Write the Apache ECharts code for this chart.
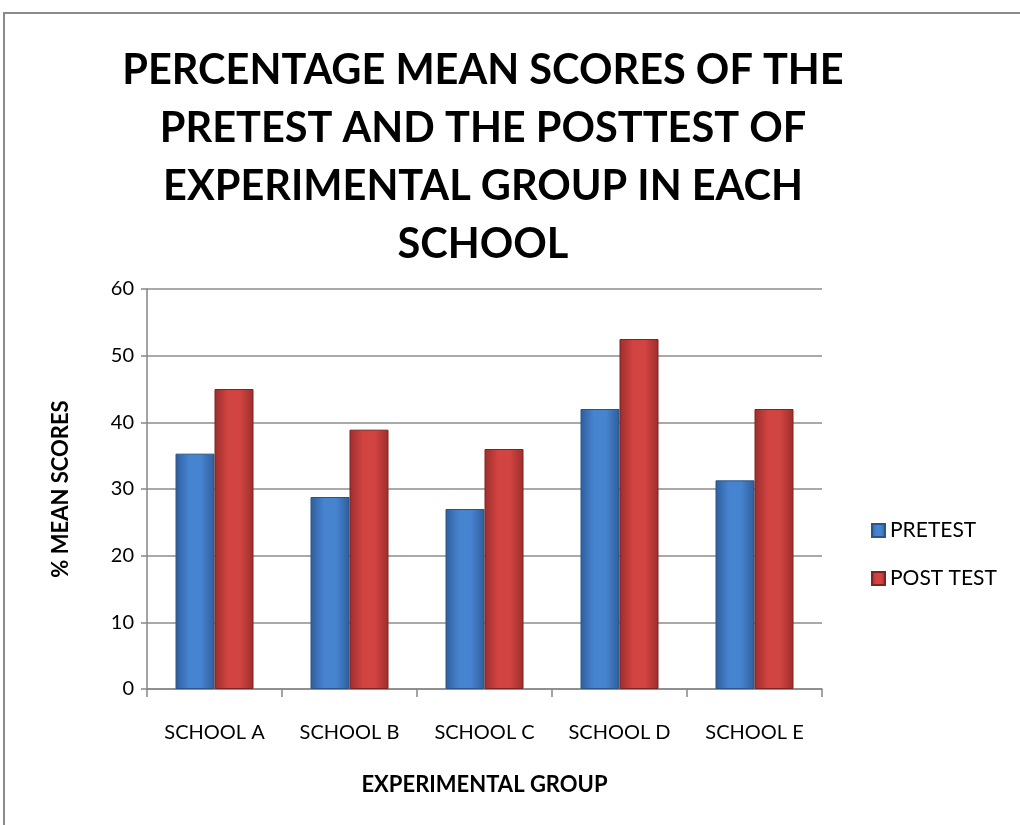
<!DOCTYPE html>
<html>
<head>
<meta charset="utf-8">
<script src="https://cdn.jsdelivr.net/npm/echarts@6/dist/echarts.min.js"></script>
<style>
  html, body { margin: 0; padding: 0; background: #fff; }
  #main { width: 1020px; height: 825px; }
</style>
</head>
<body>
<div id="main"></div>
<script>
var titleText = 'PERCENTAGE MEAN SCORES OF THE\nPRETEST AND THE POSTTEST OF\nEXPERIMENTAL GROUP IN EACH\nSCHOOL';
var schools = ['SCHOOL A', 'SCHOOL B', 'SCHOOL C', 'SCHOOL D', 'SCHOOL E'];
var pretest = [35.3, 28.8, 27.0, 42.0, 31.3];
var posttest = [45.0, 38.9, 36.0, 52.5, 42.0];
var yTicks = [0, 10, 20, 30, 40, 50, 60];

var font = 'Lato, "Open Sans", sans-serif';

function barColor(edge, mid) {
  return new echarts.graphic.LinearGradient(0, 0, 1, 0, [
    { offset: 0, color: edge },
    { offset: 0.35, color: mid },
    { offset: 0.65, color: mid },
    { offset: 1, color: edge }
  ]);
}

var myChart = echarts.init(document.getElementById('main'));

var option = {
  backgroundColor: '#fff',
  animation: false,
  title: {
    text: titleText,
    left: 478,
    top: 37,
    textAlign: 'center',
    textStyle: {
      fontFamily: font,
      fontSize: 41.5,
      fontWeight: 'bold',
      color: '#000',
      lineHeight: 58
    }
  },
  legend: {
    orient: 'vertical',
    left: 866,
    top: 515,
    itemGap: 27,
    itemWidth: 13,
    itemHeight: 13,
    icon: 'rect',
    textStyle: { fontFamily: font, fontSize: 21, color: '#000' },
    data: ['PRETEST', 'POST TEST']
  },
  grid: {
    left: 147,
    right: 198,
    top: 289,
    bottom: 136,
    containLabel: false
  },
  graphic: [{
    type: 'rect',
    shape: { x: 4, y: 13, width: 1030, height: 830 },
    style: { fill: 'none', stroke: '#8a8a8a', lineWidth: 2 },
    silent: true
  }],
  xAxis: {
    type: 'category',
    data: schools,
    name: 'EXPERIMENTAL GROUP',
    nameLocation: 'middle',
    nameGap: 85,
    nameTextStyle: { fontFamily: font, fontSize: 22, fontWeight: 'bold', color: '#000' },
    axisLine: { lineStyle: { color: '#868686', width: 1.5 } },
    axisTick: { show: true, length: 8, lineStyle: { color: '#868686', width: 1.5 } },
    axisLabel: { fontFamily: font, fontSize: 20, color: '#000', margin: 34 }
  },
  yAxis: {
    type: 'value',
    min: yTicks[0],
    max: yTicks[yTicks.length - 1],
    interval: 10,
    name: '% MEAN SCORES',
    nameLocation: 'middle',
    nameGap: 75,
    nameRotate: 90,
    nameTextStyle: { fontFamily: font, fontSize: 22, fontWeight: 'bold', color: '#000' },
    axisLine: { show: true, lineStyle: { color: '#868686', width: 1.5 } },
    axisTick: { show: true, length: 6, lineStyle: { color: '#868686', width: 1.5 } },
    axisLabel: { fontFamily: font, fontSize: 20, color: '#000', margin: 13 },
    splitLine: { lineStyle: { color: '#8c8c8c', width: 1.5 } }
  },
  series: [
    {
      name: 'PRETEST',
      type: 'bar',
      data: pretest,
      barWidth: 39,
      barGap: '0%',
      itemStyle: {
        color: barColor('#2f5e9c', '#4784d0'),
        borderColor: '#2b5487',
        borderWidth: 1
      }
    },
    {
      name: 'POST TEST',
      type: 'bar',
      data: posttest,
      barWidth: 39,
      barGap: '0%',
      itemStyle: {
        color: barColor('#9c2e2c', '#d24442'),
        borderColor: '#7c2422',
        borderWidth: 1
      }
    }
  ]
};

myChart.setOption(option);
</script>
</body>
</html>
